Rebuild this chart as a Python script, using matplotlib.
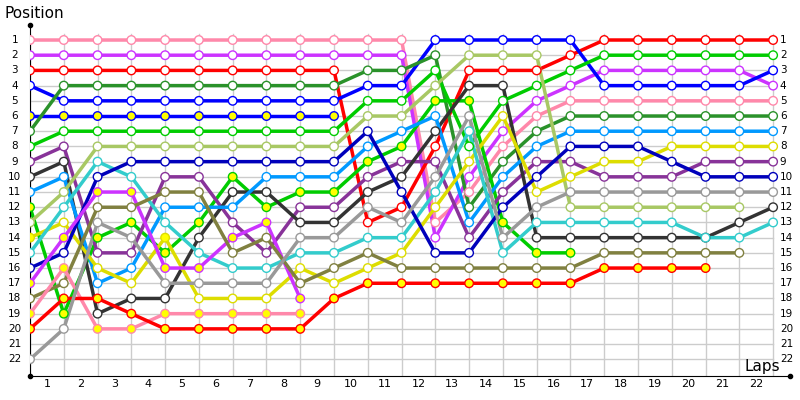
import matplotlib.pyplot as plt

# positions per lap index (0 = start), one list per car
cars = [
    # colour, positions, pit markers (yellow fill) on all points?
    ("#ff88aa", [1]*12 + [13, 11, 8, 6] + [5]*7, False),
    ("#cc33ff", [2]*12 + [14, 10, 7, 5, 4, 3, 3, 3, 3, 3, 4], False),
    ("#ff0000", [3]*10 + [13, 12, 8, 3, 3, 3, 2] + [1]*6, False),
    ("#0000ff", [4] + [5]*9 + [4, 4] + [1]*5 + [4]*5 + [3], False),
    ("#0000ff", [6]*10, True),
    ("#2a922a", [7] + [4]*9 + [3, 3, 2, 12, 9, 7] + [6]*7, False),
    ("#00cc00", [8] + [7]*9 + [5, 5, 3, 8, 5, 4, 3] + [2]*6, False),
    ("#00cc00", [12, 19, 14, 13, 15, 13, 10, 12, 11, 11, 9, 8, 5, 5, 13, 15, 15], True),
    ("#883399", [9, 8, 15, 15, 10, 10, 13, 15, 12, 12, 10, 9, 9, 14, 11, 9, 9, 10, 10, 10, 9, 9, 9], False),
    ("#333333", [10, 9, 19, 18, 18, 14, 11, 11, 13, 13, 11, 10, 7, 4, 4, 14, 14, 14, 14, 14, 14, 13, 12], False),
    ("#0099ff", [11, 10, 17, 16, 12, 12, 12, 10, 10, 10, 8, 7, 6, 13, 10, 8] + [7]*7, False),
    ("#a8c864", [13, 11] + [8]*8 + [6, 6, 4, 2, 2, 2] + [12]*6, False),
    ("#dddd00", [14, 13, 16, 17, 14, 18, 18, 18, 16, 17, 16, 15, 12, 9, 6, 11, 10, 9, 9, 8, 8, 8, 8], False),
    ("#33cccc", [15, 12, 9, 10, 13, 15, 16, 16, 15, 15, 14, 14, 11, 7, 15, 13, 13, 13, 13, 13, 14, 14, 13], False),
    ("#0000bb", [16, 15, 10] + [9]*7 + [7, 11, 15, 15, 12, 10, 8, 8, 8, 9, 10, 10, 10], False),
    ("#cc33ff", [17, 14, 11, 11, 16, 16, 14, 13, 18], True),
    ("#808040", [18, 17, 12, 12, 11, 11, 15, 14, 17, 16, 15] + [16]*6 + [15]*5, False),
    ("#ff88aa", [19, 16, 20, 20, 19, 19, 19, 19, 19], True),
    ("#ff0000", [20, 18, 18, 19, 20, 20, 20, 20, 20, 18] + [17]*7 + [16]*4, True),
    ("#999999", [22, 20, 13, 14, 17, 17, 17, 17, 14, 14, 12, 13, 10, 6, 14, 12] + [11]*7, False),
]
yellow_pts = {12: [0, 4]}  # yellow car pit laps
laps = list(range(1, 23))
positions = list(range(1, 23))

fig = plt.figure(figsize=(8, 4), dpi=100)
ax = fig.add_axes([0.0375, 0.06, 0.95, 0.878])
ax.set_xlim(0, 22.5)
ax.set_ylim(23.1, 0)

for p in positions:
    ax.plot([0, 22], [p, p], color="#cccccc", lw=1, zorder=0)
for i in range(23):
    ax.plot([i, i], [0.6, 23.1], color="#cccccc", lw=1, zorder=0)

for k, (col, pos, pit) in enumerate(cars):
    x = list(range(len(pos)))
    ax.plot(x, pos, color=col, lw=2.5, zorder=2)
    face = ["#ffff00" if (pit or i in yellow_pts.get(k, [])) else "white" for i in x]
    ax.scatter(x, pos, s=38, facecolors=face, edgecolors=col, linewidths=1, zorder=3)

for p in positions:
    ax.text(-0.45, p, str(p), ha="center", va="center", fontsize=7.5)
    ax.text(22.2, p, str(p), ha="left", va="center", fontsize=7.5)
for l in laps:
    ax.text(l - 0.5, 23.65, str(l), ha="center", va="center", fontsize=8)

ax.set_xticks([])
ax.set_yticks([])
for s in ["top", "right"]:
    ax.spines[s].set_visible(False)
ax.spines["left"].set_position(("data", 0))
ax.plot(0, 0, marker="o", ms=3, color="black", clip_on=False)
ax.plot(0, 23.1, marker="o", ms=3, color="black", clip_on=False)
ax.plot(22.5, 23.1, marker="o", ms=3, color="black", clip_on=False)
fig.text(0.005, 0.965, "Position", fontsize=11, ha="left", va="center")
fig.text(0.93, 0.085, "Laps", fontsize=11, ha="left", va="center")

fig.savefig("out.png")
